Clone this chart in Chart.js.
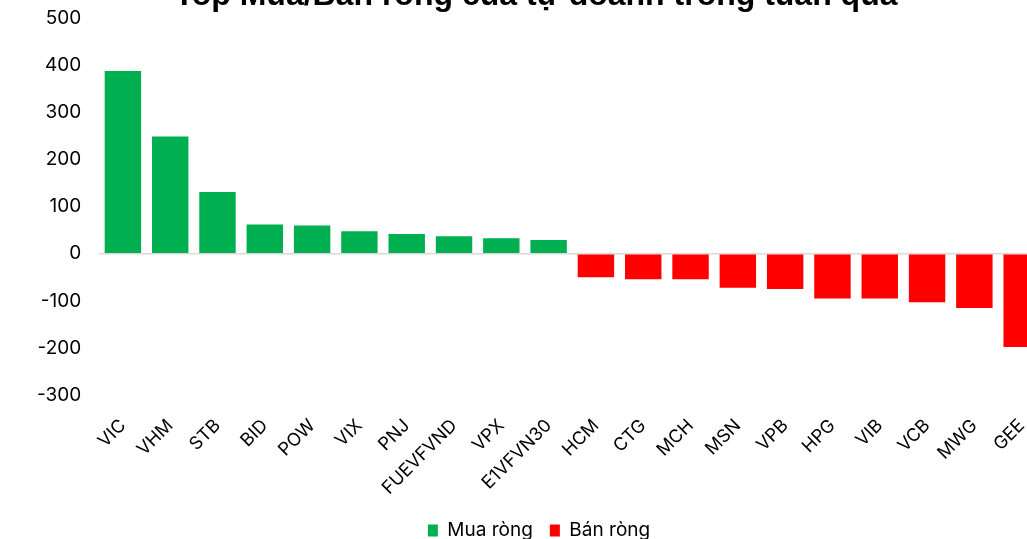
<!DOCTYPE html>
<html lang="vi">
<head>
<meta charset="utf-8">
<title>Top Mua/Bán ròng của tự doanh trong tuần qua</title>
<script src="https://cdn.jsdelivr.net/npm/chart.js@4.4.1/dist/chart.umd.min.js"></script>
<style>
  html, body { margin: 0; padding: 0; background: #fff; overflow: hidden; }
  #wrap { position: relative; width: 1057px; height: 550px; }
  #title {
    position: absolute; left: 0; top: -22px; width: 1072px;
    text-align: center; font: bold 32px/32px "Liberation Sans", Arial, sans-serif;
    color: #000; white-space: nowrap;
  }
  #chart-box { position: absolute; left: 0; top: -11px; width: 1057px; height: 561px; }
</style>
</head>
<body>
<div id="wrap">
  <div id="chart-box"><canvas id="netChart"></canvas></div>
  <div id="title">Top Mua/Bán ròng của tự doanh trong tuần qua</div>
</div>
<script>
// Mã cổ phiếu / chứng chỉ quỹ
const tickers = ['VIC', 'VHM', 'STB', 'BID', 'POW', 'VIX', 'PNJ', 'FUEVFVND', 'VPX', 'E1VFVN30',
  'HCM', 'CTG', 'MCH', 'MSN', 'VPB', 'HPG', 'VIB', 'VCB', 'MWG', 'GEE'];

// Giá trị ròng (tỷ đồng)
const netValues = [388, 249, 131, 62, 60, 48, 42, 37, 33, 29,
  -50, -54, -54, -72, -75, -95, -95, -103, -115, -198];

const seriesNames = ['Mua ròng', 'Bán ròng'];
const yTicks = [500, 400, 300, 200, 100, 0, -100, -200, -300];

const GREEN = '#00B050';
const RED = '#FF0000';

// Tách dữ liệu thành 2 series cho chú thích
const buyData = netValues.map(v => (v >= 0 ? v : null));
const sellData = netValues.map(v => (v < 0 ? v : null));

// Dời chú thích sang phải một chút cho giống bản gốc
const legendShift = {
  id: 'legendShift',
  afterLayout(chart) {
    if (chart.legend) {
      chart.legend.left += 2;
      chart.legend.right += 2;
    }
  }
};

const ctx = document.getElementById('netChart').getContext('2d');

new Chart(ctx, {
  type: 'bar',
  data: {
    labels: tickers,
    datasets: [
      {
        label: seriesNames[0],
        data: buyData,
        backgroundColor: GREEN,
        borderWidth: 0,
        barPercentage: 0.77,
        categoryPercentage: 1
      },
      {
        label: seriesNames[1],
        data: sellData,
        backgroundColor: RED,
        borderWidth: 0,
        barPercentage: 0.77,
        categoryPercentage: 1
      }
    ]
  },
  plugins: [legendShift],
  options: {
    responsive: true,
    maintainAspectRatio: false,
    animation: false,
    layout: {
      padding: { top: 7, left: 19, right: 2, bottom: 0 }
    },
    plugins: {
      legend: {
        position: 'bottom',
        labels: {
          boxWidth: 10,
          boxHeight: 12,
          padding: 17,
          color: '#000',
          font: { family: 'Inter', size: 19 }
        }
      },
      tooltip: { enabled: false }
    },
    scales: {
      x: {
        stacked: true,
        grid: { display: false, drawTicks: false },
        border: { display: false },
        afterFit: (scale) => { scale.height = 109; },
        ticks: {
          minRotation: 45,
          maxRotation: 45,
          autoSkip: false,
          padding: 20,
          color: '#000',
          font: { family: 'Inter', size: 18 }
        }
      },
      y: {
        stacked: true,
        min: -300,
        max: 500,
        afterBuildTicks: (axis) => {
          axis.ticks = yTicks.map(v => ({ value: v }));
        },
        grid: {
          drawTicks: false,
          color: (c) => (c.tick && c.tick.value === 0 ? '#D9D9D9' : 'rgba(0,0,0,0)'),
          lineWidth: (c) => (c.tick && c.tick.value === 0 ? 1.5 : 0)
        },
        border: { display: false },
        ticks: {
          padding: 18,
          color: '#000',
          font: { family: 'Inter', size: 19 }
        }
      }
    }
  }
});
</script>
</body>
</html>
